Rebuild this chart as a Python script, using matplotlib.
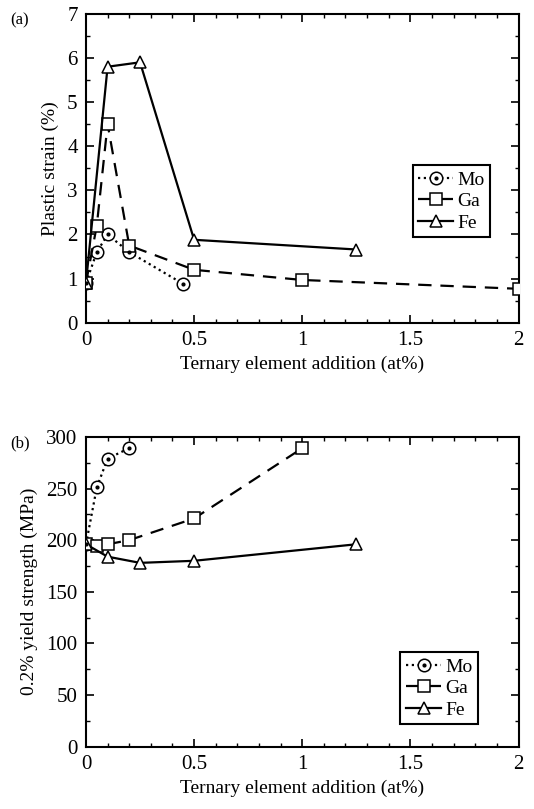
import matplotlib
matplotlib.use('Agg')
import matplotlib.pyplot as plt
from matplotlib.ticker import MultipleLocator
from matplotlib.legend_handler import HandlerTuple

plt.rcParams['font.family'] = ['Liberation Serif', 'DejaVu Serif']

# (a) plastic strain (%)
mo_x_a = [0, 0.05, 0.1, 0.2, 0.45]
mo_y_a = [0.9, 1.6, 2.0, 1.6, 0.88]
ga_x_a = [0, 0.05, 0.1, 0.2, 0.5, 1.0, 2.0]
ga_y_a = [0.9, 2.2, 4.5, 1.75, 1.2, 0.97, 0.77]
fe_x_a = [0, 0.1, 0.25, 0.5, 1.25]
fe_y_a = [0.9, 5.8, 5.9, 1.88, 1.66]

# (b) 0.2% yield strength (MPa)
mo_x_b = [0, 0.05, 0.1, 0.2]
mo_y_b = [196, 251, 279, 289]
ga_x_b = [0, 0.05, 0.1, 0.2, 0.5, 1.0]
ga_y_b = [196, 194, 196, 200, 221, 289]
fe_x_b = [0, 0.1, 0.25, 0.5, 1.25]
fe_y_b = [196, 184, 178, 180, 196]

fig = plt.figure(figsize=(5.34, 8.09), dpi=100)
ax1 = fig.add_axes([0.161, 0.601, 0.810, 0.382])
ax2 = fig.add_axes([0.161, 0.077, 0.810, 0.383])


def draw(ax, mx, my, gx, gy, fx, fy):
    ms = 9
    l_mo, = ax.plot(mx, my, color='black', ls=(0, (1, 1.6)), lw=1.6,
                    marker='o', ms=ms, mfc='white', mec='black', mew=1.1, zorder=3)
    d_mo, = ax.plot(mx, my, ls='none', marker='o', ms=2, color='black', zorder=4)
    l_ga, = ax.plot(gx, gy, color='black', ls=(0, (6, 4)), lw=1.6,
                    marker='s', ms=ms, mfc='white', mec='black', mew=1.1, zorder=3)
    l_fe, = ax.plot(fx, fy, color='black', ls='-', lw=1.6,
                    marker='^', ms=ms, mfc='white', mec='black', mew=1.1, zorder=3)
    ax.set_xlim(0, 2)
    ax.xaxis.set_minor_locator(MultipleLocator(0.1))
    ax.set_xticks([0, 0.5, 1, 1.5, 2])
    ax.set_xticklabels(['0', '0.5', '1', '1.5', '2'])
    ax.tick_params(which='both', direction='in', top=True, right=True,
                   labelsize=15, pad=6)
    ax.tick_params(which='major', length=6, width=1.2)
    ax.tick_params(which='minor', length=3, width=1)
    for s in ax.spines.values():
        s.set_linewidth(1.5)
    ax.set_xlabel('Ternary element addition (at%)', fontsize=14, labelpad=4)
    return l_mo, d_mo, l_ga, l_fe


def add_legend(ax, h, anchor):
    leg = ax.legend([(h[0], h[1]), h[2], h[3]], ['Mo', 'Ga', 'Fe'],
                    handler_map={tuple: HandlerTuple(ndivide=1, pad=0)},
                    loc='upper left', bbox_to_anchor=anchor, fontsize=14,
                    frameon=True, fancybox=False, edgecolor='black', framealpha=1,
                    handlelength=1.8, handletextpad=0.2, borderpad=0.3,
                    labelspacing=0.2, borderaxespad=0)
    leg.get_frame().set_linewidth(1.5)


h = draw(ax1, mo_x_a, mo_y_a, ga_x_a, ga_y_a, fe_x_a, fe_y_a)
ax1.set_ylim(0, 7)
ax1.yaxis.set_major_locator(MultipleLocator(1))
ax1.yaxis.set_minor_locator(MultipleLocator(0.5))
ax1.set_ylabel('Plastic strain (%)', fontsize=14, labelpad=6)
add_legend(ax1, h, (0.755, 0.51))
fig.text(0.02, 0.985, '(a)', fontsize=12, va='top')

h = draw(ax2, mo_x_b, mo_y_b, ga_x_b, ga_y_b, fe_x_b, fe_y_b)
ax2.set_ylim(0, 300)
ax2.yaxis.set_major_locator(MultipleLocator(50))
ax2.yaxis.set_minor_locator(MultipleLocator(25))
ax2.set_ylabel('0.2% yield strength (MPa)', fontsize=14, labelpad=6)
add_legend(ax2, h, (0.727, 0.305))
fig.text(0.02, 0.462, '(b)', fontsize=12, va='top')

fig.savefig('out.png', dpi=100)
